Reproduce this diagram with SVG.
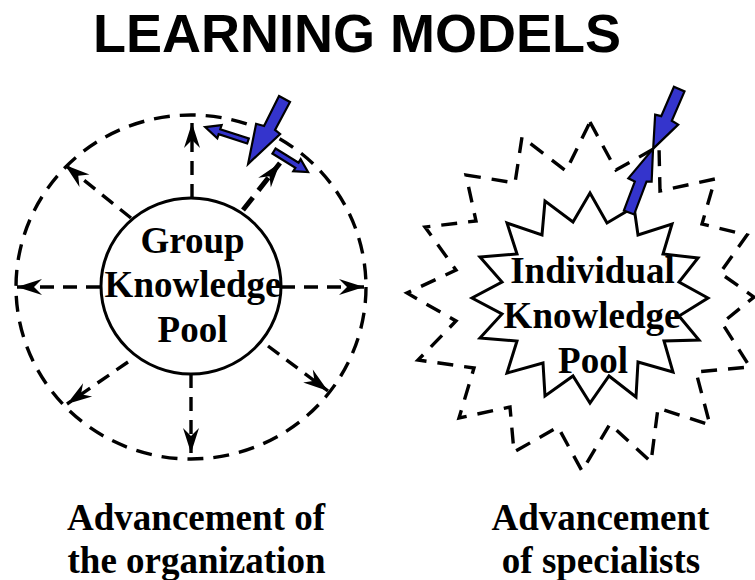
<svg xmlns="http://www.w3.org/2000/svg" width="755" height="580" viewBox="0 0 755 580">
  <defs>
    <marker id="dart" markerUnits="userSpaceOnUse" viewBox="-26 -9 27 18" refX="0" refY="0" markerWidth="27" markerHeight="18" orient="auto">
      <path d="M0,0 L-25,-8 L-17,0 L-25,8 Z" fill="#000"/>
    </marker>
  </defs>
  <style>
    .title { font-family: "Liberation Sans", Arial, sans-serif; font-weight: bold; font-size: 54px; fill: #000; }
    .label { font-family: "Liberation Serif", "Times New Roman", serif; font-weight: bold; font-size: 37px; fill: #000; }
    .ring { fill: none; stroke: #000; stroke-width: 3.4; stroke-dasharray: 16 10; }
    .spoke { fill: none; stroke: #000; stroke-width: 3.4; stroke-dasharray: 14 9; marker-end: url(#dart); }
    .spoke-bold { stroke-width: 5; stroke-dasharray: 16 9; }
    .pool { fill: #fff; stroke: #000; stroke-width: 3; }
    .burst { fill: none; stroke: #000; stroke-width: 3.4; stroke-dasharray: 16 11; stroke-linejoin: miter; }
    .bolt { fill: #3434CC; stroke: #000; stroke-width: 2.2; stroke-linejoin: miter; }
  </style>

  <rect x="0" y="0" width="755" height="580" fill="#fff"/>

  <text class="title" x="357" y="52" text-anchor="middle">LEARNING MODELS</text>

  <!-- Group model: outer boundary of the organization -->
  <g id="group-boundary">
    <ellipse class="ring" cx="191" cy="287" rx="175" ry="172"/>
  </g>

  <!-- radial spread from the group pool -->
  <g id="connectors">
    <line class="spoke" x1="100" y1="287" x2="17" y2="287"/>
    <line class="spoke" x1="281" y1="287" x2="364" y2="287"/>
    <line class="spoke" x1="192" y1="198" x2="192" y2="123"/>
    <line class="spoke" x1="191" y1="374" x2="191" y2="453"/>
    <line class="spoke" x1="131" y1="218" x2="65" y2="165"/>
    <line class="spoke" x1="128" y1="362" x2="67" y2="404"/>
    <line class="spoke" x1="268" y1="346" x2="328" y2="391"/>
    <line class="spoke spoke-bold" x1="243" y1="210" x2="280" y2="163"/>
  </g>

  <g id="group-pool">
    <ellipse class="pool" cx="191" cy="286" rx="90" ry="88"/>
    <text class="label" x="192.5" y="253" text-anchor="middle">Group</text>
    <text class="label" x="193" y="297" text-anchor="middle">Knowledge</text>
    <text class="label" x="192.5" y="342" text-anchor="middle">Pool</text>
  </g>

  <!-- incoming impulse and its deflections on the group ring -->
  <g id="group-impulse">
    <polygon class="bolt" transform="translate(284.5,98.5) rotate(119.6)" points="0.5,6 0.3,-6.5 32,-7.3 33,-13.7 75,-0.7 36,12.2 34,4.2"/>
    <polygon class="bolt" transform="translate(248,141) rotate(198)" points="0,-2.6 30,-2.6 30,-7 45,0 30,7 30,2.6 0,2.6"/>
    <polygon class="bolt" transform="translate(274,151) rotate(31.7)" points="0,-3 27,-3 27,-7 40,0 27,7 27,3 0,3"/>
  </g>

  <!-- Individual model: jagged outer boundary -->
  <g id="individual-boundary">
    <polygon class="burst" points="590,122 616,170 659,146 660,191 715,179 702,224 747,235 720,273 754,297 722,323 750,367 696,372 710,425 658,408 651,462 610,424 582,471 558,427 514,452 510,407 459,418 474,368 418,360 456,321 407,293 456,270 425,227 476,221 466,175 515,183 522,137 566,171"/>
  </g>

  <g id="individual-pool">
    <polygon class="pool" points="590,193 607,223 634,207 638,235 672,224 663,254 698,258 679,282 708,298 679,316 699,340 664,341 673,372 638,362 636,397 609,376 590,403 573,376 545,396 543,363 507,373 517,341 480,338 502,314 472,298 502,282 480,257 517,254 507,223 542,235 545,201 573,222"/>
    <text class="label" x="592.5" y="283" text-anchor="middle">Individual</text>
    <text class="label" x="592" y="328" text-anchor="middle">Knowledge</text>
    <text class="label" x="593" y="373" text-anchor="middle">Pool</text>
  </g>

  <!-- impulse meeting the specialist's push outward -->
  <g id="individual-impulse">
    <polygon class="bolt" transform="translate(629,212.5) rotate(-69.3)" points="0,-5.5 31,-5.5 31.7,-12.7 68,0 36.8,10.3 35,5.5 0,5.5"/>
    <polygon class="bolt" transform="translate(679,89) rotate(113.4)" points="0,5.5 0,-6 32,-6 33,-13.4 65,0 33,11.7 32,5.5"/>
  </g>

  <g id="caption-group">
    <text class="label" x="196" y="530" text-anchor="middle">Advancement of</text>
    <text class="label" x="196.5" y="573" text-anchor="middle">the organization</text>
  </g>
  <g id="caption-individual">
    <text class="label" x="600.5" y="530" text-anchor="middle">Advancement</text>
    <text class="label" x="601" y="573" text-anchor="middle">of specialists</text>
  </g>
</svg>
